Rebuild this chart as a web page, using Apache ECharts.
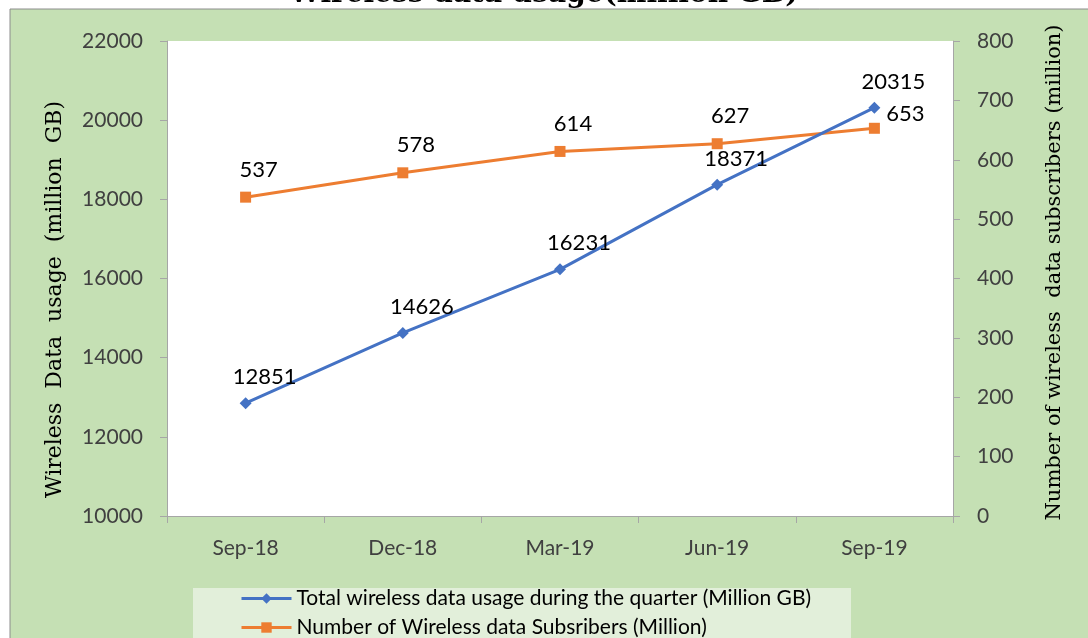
<!DOCTYPE html>
<html>
<head>
<meta charset="utf-8">
<script src="https://cdn.jsdelivr.net/npm/echarts@6/dist/echarts.min.js"></script>
<style>html,body{margin:0;padding:0;background:#fff}#c{width:1088px;height:638px}</style>
</head>
<body>
<div id="c"></div>
<script>
const categories = ['Sep-18', 'Dec-18', 'Mar-19', 'Jun-19', 'Sep-19'];
const usageValues = [12851, 14626, 16231, 18371, 20315];
const subscriberValues = [537, 578, 614, 627, 653];
const usageName = 'Total wireless data usage during the quarter (Million GB)';
const subscriberName = 'Number of Wireless data Subsribers (Million)';

const chart = echarts.init(document.getElementById('c'));
const tickFont = { fontFamily: 'Lato', fontSize: 21, color: '#404040' };
const legendBase = {
  orient: 'horizontal', left: 235,
  itemWidth: 50, itemHeight: 13,
  lineStyle: { width: 3 },
  textStyle: { fontFamily: 'Lato', fontSize: 21, color: '#000' }
};
chart.setOption({
  animation: false,
  backgroundColor: '#fff',
  title: {
    text: 'Wireless data usage(million GB)',
    left: 'center', top: -24,
    textStyle: { fontFamily: 'DejaVu Serif', fontWeight: 'bold', fontSize: 28, color: '#000' }
  },
  graphic: [
    { type: 'rect', z: -10, shape: { x: 10, y: 9, width: 1100, height: 650 }, style: { fill: '#c5e0b4', stroke: '#8c8c8c', lineWidth: 1 } },
    { type: 'rect', z: -9, shape: { x: 167, y: 41, width: 786, height: 475 }, style: { fill: '#ffffff' } },
    { type: 'rect', z: -9, shape: { x: 193, y: 588, width: 658, height: 52 }, style: { fill: '#e2efda' } }
  ],
  grid: { left: 167, right: 135, top: 41, bottom: 122, containLabel: false },
  legend: [
    Object.assign({ top: 583, data: [usageName] }, legendBase),
    Object.assign({ top: 612, data: [subscriberName] }, legendBase)
  ],
  xAxis: {
    type: 'category', data: categories, boundaryGap: true,
    axisLine: { lineStyle: { color: '#a6a6a6' } },
    axisTick: { show: true, inside: false, length: 7, lineStyle: { color: '#a6a6a6' } },
    axisLabel: Object.assign({ margin: 22 }, tickFont),
    splitLine: { show: false }
  },
  yAxis: [
    {
      type: 'value', min: 10000, max: 22000, interval: 2000, position: 'left',
      name: 'Wireless  Data  usage  (million  GB)', nameLocation: 'middle', nameGap: 101, nameRotate: 90,
      nameTextStyle: { fontFamily: 'DejaVu Serif', fontSize: 22, color: '#000', padding: [0, 42, 0, 0] },
      axisLine: { show: true, lineStyle: { color: '#a6a6a6' } },
      axisTick: { show: true, length: 7, lineStyle: { color: '#a6a6a6' } },
      axisLabel: Object.assign({ margin: 24, formatter: function (v) { return String(v); } }, tickFont),
      splitLine: { show: false }
    },
    {
      type: 'value', min: 0, max: 800, interval: 100, position: 'right',
      name: 'Number of wireless  data subscribers (million)', nameLocation: 'middle', nameGap: 91, nameRotate: 90,
      nameTextStyle: { fontFamily: 'DejaVu Serif', fontSize: 21, color: '#000', padding: [0, 0, 0, 12] },
      axisLine: { show: true, lineStyle: { color: '#a6a6a6' } },
      axisTick: { show: true, length: 7, lineStyle: { color: '#a6a6a6' } },
      axisLabel: Object.assign({ margin: 24, formatter: function (v) { return String(v); } }, tickFont),
      splitLine: { show: false }
    }
  ],
  series: [
    {
      name: usageName, type: 'line', yAxisIndex: 0, data: usageValues,
      symbol: 'diamond', symbolSize: 12,
      lineStyle: { color: '#4472c4', width: 3 },
      itemStyle: { color: '#4472c4' },
      label: { show: true, position: 'top', distance: 9, fontFamily: 'Lato', fontSize: 22, color: '#000' },
      labelLayout: function () { return { dx: 19 }; },
      z: 3
    },
    {
      name: subscriberName, type: 'line', yAxisIndex: 1, data: subscriberValues,
      symbol: 'rect', symbolSize: 11,
      lineStyle: { color: '#ed7d31', width: 3 },
      itemStyle: { color: '#ed7d31' },
      label: { show: true, position: 'top', distance: 11, fontFamily: 'Lato', fontSize: 22, color: '#000' },
      labelLayout: function (p) { return p.dataIndex === 4 ? { dx: 31, dy: 13 } : { dx: 13 }; },
      z: 2
    }
  ]
});
</script>
</body>
</html>
